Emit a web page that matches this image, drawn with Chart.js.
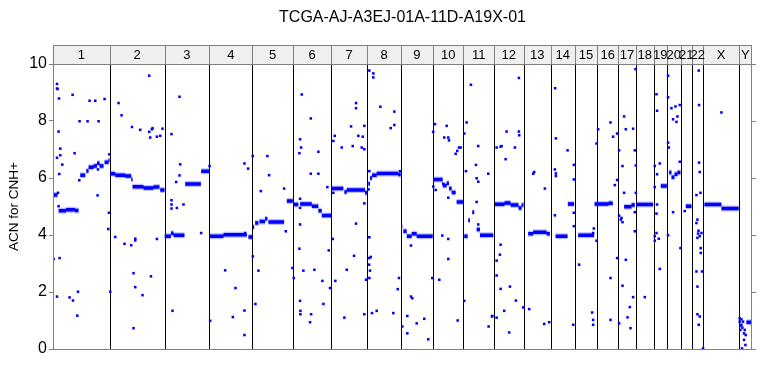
<!DOCTYPE html>
<html><head><meta charset="utf-8">
<script src="https://cdn.jsdelivr.net/npm/chart.js@4.4.1/dist/chart.umd.min.js"></script>
<style>html,body{margin:0;padding:0;background:#fff}#wrap{width:768px;height:384px;position:relative}</style>
</head><body><div id="wrap"><canvas id="c" width="768" height="384"></canvas></div>
<script>
const chartTitle = "TCGA-AJ-A3EJ-01A-11D-A19X-01";
const yAxisLabel = "ACN for CNH+";
const chromNames = ["1","2","3","4","5","6","7","8","9","10","11","12","13","14","15","16","17","18","19","20","21","22","X","Y"];
const chromSpans = [56.6,55.0,44.9,43.1,40.5,38.5,35.7,34.0,32.0,30.5,30.5,29.7,27.1,24.0,22.7,20.8,17.9,17.6,13.4,13.6,11.4,11.5,35.5,13.1];
const yTicks = [0,2,4,6,8,10];

// segment runs: [start, end, ACN]
const segments = [
[1.0,4.5,5.40],[5.6,13.0,4.85],[13.0,22.0,4.89],[22.0,25.6,4.86],
[27.3,32.3,6.10],[33.3,35.6,6.25],[35.6,40.6,6.38],[40.6,44.0,6.42],[44.0,46.6,6.52],[46.6,50.6,6.42],[51.6,55.6,6.55],[55.6,56.6,6.62],
[57.3,62.3,6.15],[62.3,72.3,6.10],[72.3,78.3,6.07],[78.3,79.6,5.95],[79.6,90.6,5.69],[90.6,100.6,5.65],[100.6,106.6,5.68],[107.3,111.6,5.58],
[111.8,118.0,3.96],[118.0,120.6,4.06],[120.6,131.6,3.99],[132.3,148.0,5.79],[148.3,156.5,6.24],
[156.7,170.6,3.96],[170.6,194.0,4.01],[195.6,199.5,3.93],
[200.0,201.3,4.28],[202.3,205.6,4.42],[206.6,212.3,4.47],[212.3,214.6,4.57],[215.6,231.3,4.46],[234.0,240.0,5.19],
[240.6,245.6,5.07],[247.3,259.0,5.09],[259.0,265.6,5.01],[265.6,269.0,4.85],[269.0,278.5,4.68],
[279.0,290.6,5.63],[291.6,294.0,5.51],[294.0,312.3,5.58],[312.3,314.2,5.48],
[315.6,317.3,5.80],[317.3,319.3,6.00],[319.3,324.0,6.10],[324.0,345.6,6.16],[345.6,348.0,6.12],
[348.5,349.6,4.30],[350.6,354.0,4.13],[354.0,359.0,3.96],[359.0,364.0,4.04],[364.0,380.0,3.96],
[380.6,390.0,5.95],[390.0,394.0,5.74],[394.0,396.3,5.82],[396.3,399.0,5.63],[399.0,403.0,5.49],[404.0,410.6,5.16],
[411.6,415.0,3.96],[415.6,417.3,4.52],[419.6,421.6,4.80],[424.0,427.3,4.19],[427.3,440.6,3.99],
[442.3,452.0,5.08],[452.0,458.0,5.12],[458.0,466.0,5.05],[466.0,469.0,4.95],[469.0,470.9,5.05],
[475.6,480.6,4.04],[480.6,494.0,4.10],[494.0,497.3,4.04],
[503.0,515.0,3.96],[515.3,521.6,5.09],
[525.6,541.6,3.99],[542.0,556.0,5.09],[556.0,560.3,5.11],
[571.6,579.0,4.99],[579.0,582.3,5.05],
[584.0,600.6,5.07],
[608.3,614.4,5.72],
[616.6,619.0,6.19],[619.0,622.0,6.03],[622.0,625.0,6.13],[625.0,628.0,6.19],
[633.3,639.0,5.01],
[652.0,669.0,5.07],[669.0,686.3,4.93],
[694.0,699.6,0.94]
];

// isolated probes: [genome position, ACN]
const probes = [
[0.6,3.16],[4.0,9.30],[4.0,9.14],[4.6,9.12],[6.0,8.79],[5.6,7.63],[4.0,6.71],[7.3,7.03],[7.3,6.80],[9.3,6.47],[6.3,6.14],[5.6,5.01],[5.0,5.48],[6.6,3.19],[4.0,1.84],[16.6,1.81],[20.0,1.70],[24.3,1.17],[25.0,2.01],[19.6,8.92],[26.6,7.99],[34.6,7.99],[45.6,7.99],[36.6,8.71],[42.3,8.71],[51.6,8.77],[21.6,6.87],[44.6,5.39],[26.3,5.92],[45.0,6.30],[56.3,6.83],[56.0,4.78],[55.3,4.21],
[57.3,2.01],[65.6,8.63],[68.6,8.20],[62.3,3.93],[71.6,3.69],[79.0,7.79],[78.3,3.64],[82.3,3.81],[82.3,3.87],[80.6,2.66],[82.3,2.17],[89.6,1.89],[80.6,0.73],[87.3,7.69],[96.3,9.59],[96.3,7.62],[97.3,7.42],[99.0,7.71],[99.6,7.75],[104.0,7.45],[107.3,7.48],[109.6,7.73],[98.0,2.55],[104.0,3.86],
[118.6,7.54],[126.6,8.85],[127.3,6.48],[126.6,6.09],[123.3,5.86],[118.6,5.22],[118.6,5.07],[118.6,4.93],[124.0,4.95],[130.6,5.07],[119.6,1.34],[148.3,4.07],[156.7,6.42],
[157.3,0.99],[172.3,2.76],[182.6,2.14],[180.0,1.12],[191.6,1.35],[191.6,0.49],[191.6,6.51],[195.3,6.33],[192.3,4.07],
[200.0,6.77],[214.6,6.77],[216.3,6.10],[208.0,5.54],[231.3,5.63],[200.0,3.25],[205.6,2.75],[202.6,1.58],[233.0,4.13],[239.6,2.84],
[249.0,8.93],[258.0,8.09],[247.3,7.36],[248.3,7.07],[246.6,6.87],[265.6,6.92],[258.0,6.15],[265.6,6.15],[274.6,5.68],[247.3,5.27],[247.3,4.95],[247.3,4.37],[246.6,3.52],[250.6,2.75],[261.6,2.78],[269.6,2.39],[276.0,3.46],[277.3,2.14],[241.0,2.49],[247.3,1.69],[247.6,1.34],[247.6,1.22],[258.3,1.22],[257.3,0.94],[270.6,1.58],
[280.6,5.48],[280.0,3.86],[280.6,7.30],[282.0,7.48],[289.0,7.07],[298.3,7.81],[303.3,8.63],[303.3,8.45],[305.6,7.48],[310.0,7.45],[311.6,7.83],[309.0,7.07],[311.6,7.01],[300.0,7.12],[311.6,5.11],[303.3,4.40],[301.3,3.27],[294.0,2.78],[282.6,2.39],[291.6,1.10],[311.6,1.22],[313.3,2.43],
[316.6,9.77],[320.6,9.67],[320.6,9.53],[327.6,8.50],[341.6,8.33],[341.6,7.86],[338.0,7.75],[316.6,6.24],[347.3,6.24],[316.6,3.92],[316.6,3.19],[318.0,3.23],[316.3,2.96],[317.3,2.75],[316.6,2.49],[346.3,2.49],[345.0,2.10],[319.3,1.26],[324.0,1.34],[340.6,1.26],[315.8,5.60],
[358.3,3.63],[358.3,1.84],[359.6,1.78],[349.6,0.79],[354.6,1.16],[354.6,0.55],[364.0,0.90],[371.6,1.06],[375.6,0.34],[379.6,2.49],
[382.3,7.89],[394.0,7.83],[391.6,7.42],[395.6,7.42],[396.3,7.32],[380.5,7.62],[406.3,7.07],[408.0,7.07],[404.6,6.95],[403.0,6.85],[390.6,5.80],[383.0,5.58],[380.6,5.70],[395.6,5.31],[389.6,3.98],[395.6,3.86],[395.6,3.16],[386.6,2.43],[405.0,1.00],
[418.3,9.27],[414.0,7.95],[411.6,7.56],[425.6,7.12],[423.3,6.46],[413.3,6.24],[424.0,5.99],[425.6,5.87],[435.6,6.15],[424.0,5.16],[425.6,4.37],[411.6,1.69],[436.0,0.79],[439.3,1.14],[439.6,1.16],
[444.0,7.07],[448.0,7.10],[454.0,7.63],[453.0,6.66],[448.0,3.66],[447.3,3.31],[444.0,3.10],[444.0,2.58],[448.0,2.11],[444.0,1.10],[456.6,0.58],[451.6,1.34],[457.3,2.19],[466.3,9.51],[466.3,7.63],[466.6,7.50],[449.0,7.12],[462.3,7.07],[463.3,1.70],[470.6,1.46],
[480.6,6.15],[481.6,6.21],[492.3,5.63],[476.6,1.40],[491.6,0.88],[496.6,0.94],
[502.6,9.15],[503.3,7.39],[515.0,6.97],[502.3,6.30],[503.3,6.16],[503.3,6.07],[502.3,4.69],[520.6,0.85],[521.3,6.46],[521.3,5.95],[521.3,4.78],[521.3,4.31],
[526.6,2.96],[539.6,1.28],[540.6,1.02],[540.6,0.85],[541.3,4.23],[540.6,4.07],[544.0,3.80],[544.0,7.21],
[545.6,7.71],[558.0,7.95],[564.6,7.56],[560.6,7.45],[564.6,5.93],[562.3,5.75],[564.6,3.19],[558.0,2.49],[558.0,1.02],
[571.6,8.16],[573.3,7.71],[580.6,7.73],[566.6,6.97],[582.3,6.97],[570.0,6.42],[583.3,6.44],[571.6,5.48],[583.3,5.48],[566.6,4.68],[568.3,4.54],[570.0,4.45],[569.0,4.60],[582.3,4.13],[573.3,3.13],[570.0,2.22],[580.6,1.82],[577.3,1.47],[575.0,1.11],[566.6,0.90],[578.0,0.73],[583.0,9.82],[582.3,4.80],
[592.3,1.82],
[604.0,8.94],[604.6,8.36],[602.3,6.42],[607.3,6.51],[604.6,6.13],[602.3,5.68],[604.6,5.07],[604.0,4.75],[604.0,4.07],[602.3,3.96],[602.3,3.80],[606.3,3.87],[607.3,2.81],
[615.6,9.59],[615.6,8.83],[619.0,8.45],[623.0,8.51],[627.3,8.56],[625.0,8.16],[620.6,8.06],[624.0,7.97],[615.6,7.24],[616.3,7.07],[627.3,6.57],[620.6,4.80],[615.6,3.99],[628.0,3.54],
[632.3,4.84],
[646.3,9.77],[646.6,8.56],[646.6,6.54],[647.3,6.21],[648.0,5.48],[644.0,5.40],[645.0,4.54],[644.0,4.42],[645.6,4.05],[647.3,3.96],[649.0,4.07],[648.3,3.54],[648.3,3.37],[644.0,2.72],[649.6,2.72],[645.0,2.19],[645.0,1.22],[647.3,1.14],[646.3,0.85],[650.6,0.02],[645.0,3.90],[646.0,4.15],
[669.0,8.30],
[687.3,1.08],[687.3,0.96],[688.0,0.81],[688.0,0.67],[689.0,0.85],[690.0,0.75],[691.6,0.55],[691.6,0.32],[693.3,0.49],[693.0,0.14],[689.6,0.02],[692.3,0.67],[690.6,0.96],[689.0,1.04]
];

const chromStarts = [0];
chromSpans.forEach((s, i) => chromStarts.push(+(chromStarts[i] + s).toFixed(2)));
const genomeEnd = chromStarts[chromStarts.length - 1];

const segData = [];
segments.forEach(([s, e, v]) => { segData.push({x: s, y: v}, {x: e, y: v}, {x: e, y: null}); });
const probeData = probes.map(([x, y]) => ({x, y}));

const FONT = "'Liberation Sans', Arial, Helvetica, sans-serif";
const BLUE = '#0000ff';
const BOX = '#808080';

const panelPlugin = {
  id: 'panels',
  beforeDatasetsDraw(chart) {
    const {ctx, chartArea: a, scales: {x}} = chart;
    ctx.save();
    ctx.strokeStyle = '#000';
    ctx.lineWidth = 1;
    for (let i = 1; i < chromStarts.length - 1; i++) {
      const px = Math.round(x.getPixelForValue(chromStarts[i])) + 0.5;
      ctx.beginPath(); ctx.moveTo(px, a.top); ctx.lineTo(px, a.bottom); ctx.stroke();
    }
    ctx.restore();
  },
  afterDraw(chart) {
    const {ctx, chartArea: a, scales: {x, y}} = chart;
    ctx.save();
    const stripTop = 45.5;
    const top = a.top + 0.5;
    // strip
    ctx.fillStyle = '#efefef';
    ctx.fillRect(a.left, stripTop, a.right - a.left, top - stripTop);
    ctx.strokeStyle = BOX; ctx.lineWidth = 1;
    for (let i = 1; i < chromStarts.length - 1; i++) {
      const px = Math.round(x.getPixelForValue(chromStarts[i])) + 0.5;
      ctx.beginPath(); ctx.moveTo(px, stripTop); ctx.lineTo(px, top); ctx.stroke();
    }
    ctx.strokeRect(a.left + 0.5, stripTop, a.right - a.left - 1, top - stripTop);
    ctx.fillStyle = '#000';
    ctx.font = '13px ' + FONT;
    ctx.textAlign = 'center'; ctx.textBaseline = 'middle';
    chromNames.forEach((n, i) => {
      const cx = (x.getPixelForValue(chromStarts[i]) + x.getPixelForValue(chromStarts[i + 1])) / 2;
      ctx.fillText(n, cx, (stripTop + top) / 2 + 0.5);
    });
    // panel box
    ctx.strokeStyle = BOX;
    ctx.strokeRect(a.left + 0.5, top, a.right - a.left - 1, Math.round(a.bottom) - top + 0.5);
    // right-side ticks
    yTicks.forEach(t => {
      const py = Math.round(y.getPixelForValue(t)) + 0.5;
      ctx.beginPath(); ctx.moveTo(a.right, py); ctx.lineTo(a.right + 4, py); ctx.stroke();
    });
    // title
    ctx.fillStyle = '#000';
    ctx.font = '16px ' + FONT;
    ctx.textBaseline = 'middle';
    ctx.fillText(chartTitle, (a.left + a.right) / 2, 18);
    ctx.restore();
  }
};

new Chart(document.getElementById('c'), {
  type: 'scatter',
  data: {
    datasets: [
      {label: 'segment halo', data: segData, showLine: true, spanGaps: false, borderColor: 'rgba(60,60,255,0.35)', borderWidth: 6, borderCapStyle: 'butt', pointRadius: 0, order: 3},
      {label: 'segment', data: segData, showLine: true, spanGaps: false, borderColor: BLUE, borderWidth: 3.5, borderCapStyle: 'butt', pointRadius: 0, order: 2},
      {label: 'probes', data: probeData, showLine: false, pointStyle: 'rect', pointRadius: 1.8, pointBackgroundColor: BLUE, pointBorderWidth: 0, order: 1}
    ]
  },
  options: {
    responsive: false,
    animation: false,
    devicePixelRatio: 1,
    layout: {padding: {left: 0, right: 16, top: 64, bottom: 35}},
    plugins: {legend: {display: false}, tooltip: {enabled: false}, title: {display: false}},
    scales: {
      x: {type: 'linear', display: false, min: 0, max: genomeEnd},
      y: {
        type: 'linear', min: 0, max: 10,
        afterFit(s) { s.width = 53; },
        afterBuildTicks(s) { s.ticks = yTicks.map(v => ({value: v})); },
        ticks: {color: '#000', font: {family: FONT, size: 16}, padding: 2},
        grid: {display: true, drawOnChartArea: false, drawTicks: true, tickLength: 4, color: BOX},
        border: {display: false},
        title: {display: true, text: yAxisLabel, color: '#000', font: {family: FONT, size: 13.5}, padding: {top: 6, bottom: 0}}
      }
    }
  },
  plugins: [panelPlugin]
});
</script>
</body></html>
